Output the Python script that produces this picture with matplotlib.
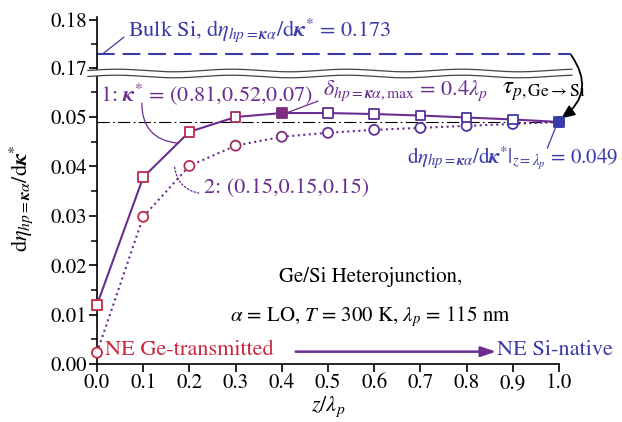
import numpy as np
import matplotlib
matplotlib.use('Agg')
import matplotlib.pyplot as plt
from matplotlib.colors import LinearSegmentedColormap
from matplotlib.lines import Line2D
from matplotlib.patches import Polygon

# positions along the heterojunction, in units of lambda_p
z = [0.0, 0.1, 0.2, 0.3, 0.4, 0.5, 0.6, 0.7, 0.8, 0.9, 1.0]
# case 1: kappa* = (0.81,0.52,0.07)
deta_1 = [0.0120, 0.0378, 0.0470, 0.0500, 0.0508, 0.0508, 0.0506, 0.0503, 0.0499, 0.0495, 0.0490]
# case 2: kappa* = (0.15,0.15,0.15)
deta_2 = [0.0023, 0.0298, 0.0401, 0.0442, 0.0460, 0.0468, 0.0474, 0.0478, 0.0482, 0.0486, 0.0490]
kappa_1 = (0.81, 0.52, 0.07)
kappa_2 = (0.15, 0.15, 0.15)
bulk_si = 0.173
deta_end = 0.049
delta_max = 0.4

plt.rcParams['font.family'] = 'STIXGeneral'
plt.rcParams['mathtext.fontset'] = 'stix'

red = '#C8283C'
purple = '#6B2D90'
blue = '#3A3AA8'
grad = LinearSegmentedColormap.from_list('gesi', [(0, red), (0.25, '#B02A55'), (0.45, purple), (1, blue)])

W, H = 622, 422
fig = plt.figure(figsize=(W/100, H/100), dpi=100)
ax = fig.add_axes([97/W, 58/H, 462/W, 291/H])
ax_top = fig.add_axes([97/W, (H-70.4)/H, 462/W, 53.4/H])

# curves
ax.plot(z, deta_1, '-', color=purple, lw=1.5, zorder=3)
ax.plot(z, deta_2, ':', color=purple, lw=1.5, zorder=3)
cols = [grad(v) for v in z]
face2 = ['white']*len(z)
face2[-1] = cols[-1]
face1 = ['white']*len(z)
face1[z.index(delta_max)] = cols[z.index(delta_max)]
face1[-1] = cols[-1]
ax.scatter(z, deta_2, marker='o', s=52, facecolors=face2, edgecolors=cols, linewidths=1.3, zorder=4, clip_on=False)
ax.scatter(z, deta_1, marker='s', s=48, facecolors=face1, edgecolors=cols, linewidths=1.3, zorder=5, clip_on=False)

ax.axhline(deta_end, color='k', lw=0.8, ls=(0, (11, 3, 1.5, 3)), zorder=2)

ax.set_xlim(0, 1)
ax.set_ylim(0, 291/4940)
ax.set_xticks(np.arange(0, 1.01, 0.1))
ax.set_xticklabels(['%.1f' % t for t in np.arange(0, 1.01, 0.1)])
ax.set_yticks([0, 0.01, 0.02, 0.03, 0.04, 0.05])
ax.set_yticklabels(['0.00', '0.01', '0.02', '0.03', '0.04', '0.05'])
ax.set_yticks(np.arange(0.005, 0.058, 0.01), minor=True)
for s in ['top', 'right']:
    ax.spines[s].set_visible(False)
ax.spines['left'].set_linewidth(1.2)
ax.spines['bottom'].set_linewidth(1.2)
ax.tick_params(which='major', direction='out', length=6, width=1.2, labelsize=15, pad=1)
ax.tick_params(which='minor', direction='out', length=4.5, width=1.1)
ax.set_xlabel(r'$z/\lambda_p$', fontsize=16, labelpad=1)
ax.set_ylabel(r'd$\eta_{hp=\boldsymbol{\kappa}\alpha}$/d$\boldsymbol{\kappa}^{*}$', fontsize=16, labelpad=6)
ax.yaxis.set_label_coords(-0.135, 0.57)

# upper piece of broken axis
ax_top.plot([0, 1.027], [bulk_si, bulk_si], color=blue, lw=1.5, ls=(0, (8.5, 3.8)), clip_on=False)
ax_top.set_xlim(0, 1)
ax_top.set_ylim(0.1695, 0.1695 + 53.4/4800)
ax_top.set_yticks([0.17, 0.18])
ax_top.set_yticklabels(['0.17', '0.18'])
ax_top.set_yticks([0.175], minor=True)
ax_top.set_xticks([])
for s in ['top', 'right', 'bottom']:
    ax_top.spines[s].set_visible(False)
ax_top.spines['left'].set_linewidth(1.2)
ax_top.tick_params(which='major', direction='out', length=6, width=1.2, labelsize=15, pad=1)
ax_top.tick_params(which='minor', direction='out', length=4.5, width=1.1)
ax_top.patch.set_alpha(0)

# wavy break marks
xs = np.linspace(88, 572, 300)
wave = 1.3*np.sin(2*np.pi*(xs-88)/115)
y_a = H - 70.5 + wave
y_b = H - 76.5 + wave
poly = np.concatenate([np.column_stack([xs, y_a]), np.column_stack([xs[::-1], y_b[::-1]])])
fig.add_artist(Polygon(poly/[W, H], closed=True, transform=fig.transFigure, facecolor='white', edgecolor='none', zorder=10))
for yy in (y_a, y_b):
    fig.add_artist(Line2D(xs/W, yy/H, transform=fig.transFigure, color='#444444', lw=0.9, zorder=11))

# annotations
bulk_txt = r'Bulk Si, d$\eta_{hp=\boldsymbol{\kappa}\alpha}$/d$\boldsymbol{\kappa}^{*}$ = ' + '%.3f' % bulk_si
ax_top.text(0.067, 0.1779, bulk_txt, color=blue, fontsize=16, va='center', ha='left')
ax_top.plot([0.013, 0.058], [bulk_si, 0.1764], color=blue, lw=0.9, clip_on=False)

k1_txt = r'1: $\boldsymbol{\kappa}^{*}$ = (' + ','.join('%.2f' % k for k in kappa_1) + ')'
ax.text(0.006, 0.0546, k1_txt, color=purple, fontsize=16, va='center', ha='left')
ax.annotate('', xy=(0.175, 0.0447), xytext=(0.097, 0.0528),
            arrowprops=dict(arrowstyle='-', color=purple, lw=0.9, connectionstyle='arc3,rad=0.45', shrinkA=0, shrinkB=0))

k2_txt = '2: (' + ','.join('%.2f' % k for k in kappa_2) + ')'
ax.text(0.232, 0.0356, k2_txt, color=purple, fontsize=16, va='center', ha='left')
ax.annotate('', xy=(0.220, 0.0346), xytext=(0.168, 0.0398),
            arrowprops=dict(arrowstyle='-', color=purple, lw=1.0, ls=':', connectionstyle='arc3,rad=0.35', shrinkA=0, shrinkB=0))

d_txt = r'$\delta_{hp=\boldsymbol{\kappa}\alpha,\mathrm{max}}$ = ' + '%.1f' % delta_max + r'$\lambda_p$'
ax.text(0.49, 0.0553, d_txt, color=purple, fontsize=16, va='center', ha='left')
ax.plot([0.478, 0.412], [0.0532, 0.0509], color=purple, lw=0.9)

ax.text(0.877, 0.0552, r'$\tau_{p,\mathrm{Ge}\rightarrow\mathrm{Si}}$', color='k', fontsize=18, va='center', ha='left')
ax.annotate('', xy=(1.0, 0.0494), xytext=(1.026, 0.0626), annotation_clip=False,
            arrowprops=dict(arrowstyle='-|>,head_length=0.8,head_width=0.35', color='k', lw=1.3,
                            connectionstyle='arc3,rad=-0.5', shrinkA=0, shrinkB=2))

end_txt = r'd$\eta_{hp=\boldsymbol{\kappa}\alpha}$/d$\boldsymbol{\kappa}^{*}|_{z=\lambda_p}$ = ' + '%.3f' % deta_end
ax.text(0.672, 0.0414, end_txt, color=blue, fontsize=15, va='center', ha='left', clip_on=False)
ax.plot([0.975, 0.993], [0.0437, 0.0480], color=blue, lw=0.9)

ax.text(0.592, 0.0176, 'Ge/Si Heterojunction,', color='k', fontsize=15, va='center', ha='center')
ax.text(0.592, 0.0097, r'$\alpha$ = LO, $T$ = 300 K, $\lambda_p$ = 115 nm', color='k', fontsize=15, va='center', ha='center')

ax.text(0.017, 0.0029, 'NE Ge-transmitted', color=red, fontsize=16, va='center', ha='left')
ax.text(0.866, 0.0029, 'NE Si-native', color=blue, fontsize=16, va='center', ha='left', clip_on=False)
ax.annotate('', xy=(0.864, 0.0025), xytext=(0.43, 0.0025),
            arrowprops=dict(arrowstyle='-|>,head_length=0.9,head_width=0.3', color=purple, lw=1.8, shrinkA=0, shrinkB=0))

fig.savefig('out.png', dpi=100)
